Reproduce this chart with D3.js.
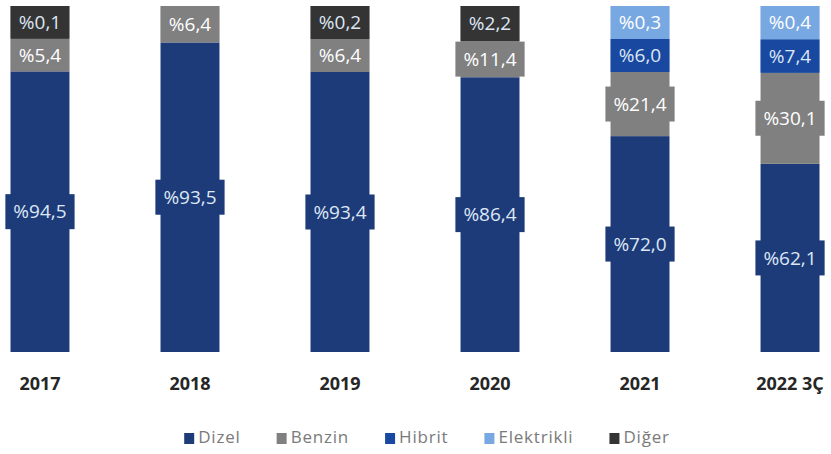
<!DOCTYPE html>
<html>
<head>
<meta charset="utf-8">
<script src="https://cdn.jsdelivr.net/npm/d3@7"></script>
<style>
  html, body { margin: 0; padding: 0; background: #fff; }
  svg { display: block; }
</style>
</head>
<body>
<svg id="chart" width="831" height="454"></svg>
<script>
// Fuel-type shares of registrations per year (percent)
const categories = ["2017", "2018", "2019", "2020", "2021", "2022 3Ç"];
const seriesNames = ["Dizel", "Benzin", "Hibrit", "Elektrikli", "Diğer"];
const dizel      = [94.5, 93.5, 93.4, 86.4, 72.0, 62.1];
const benzin     = [5.4, 6.4, 6.4, 11.4, 21.4, 30.1];
const hibrit     = [0, 0, 0, 0, 6.0, 7.4];
const elektrikli = [0, 0, 0, 0, 0.3, 0.4];
const diger      = [0.1, 0, 0.2, 2.2, 0, 0];
const colors = ["#1d3b79", "#808080", "#1848a0", "#78a8e2", "#343434"];

const seriesValues = [dizel, benzin, hibrit, elektrikli, diger];
const rows = categories.map((c, i) => {
  const r = { category: c };
  seriesNames.forEach((s, j) => { r[s] = seriesValues[j][i]; });
  return r;
});

// Small shares get a minimum drawn share so their labels stay readable;
// each bar is then normalised to full height.
const MIN_SHARE = 11;
const shown = v => (v > 0 ? Math.max(v, MIN_SHARE) : 0);

const stack = d3.stack()
  .keys(seriesNames)
  .value((d, k) => shown(d[k]))
  .offset(d3.stackOffsetExpand);
const layers = stack(rows);

const svg = d3.select("#chart");
const x = d3.scaleBand().domain(categories).range([10.5, 819.5])
  .paddingInner(0.607).paddingOuter(0);
const y = d3.scaleLinear().domain([0, 1]).range([352, 6]);
const color = d3.scaleOrdinal().domain(seriesNames).range(colors);

// stacked segments
const layerG = svg.append("g").selectAll("g").data(layers).join("g")
  .attr("fill", d => color(d.key));
layerG.selectAll("rect")
  .data(d => d.map(p => ({ key: d.key, p })).filter(o => o.p.data[o.key] > 0))
  .join("rect")
  .attr("x", o => x(o.p.data.category))
  .attr("width", x.bandwidth())
  .attr("y", o => y(o.p[1]))
  .attr("height", o => y(o.p[0]) - y(o.p[1]));

// value labels with a backing box in the segment colour
const fmt = v => "%" + v.toFixed(1).replace(".", ",");
const labelFont = "'Open Sans', sans-serif";
const labels = [];
layers.forEach(layer => {
  layer.forEach(p => {
    const v = p.data[layer.key];
    if (v > 0) labels.push({ key: layer.key, v, cat: p.data.category, y0: y(p[0]), y1: y(p[1]) });
  });
});
const labG = svg.append("g").selectAll("g").data(labels).join("g")
  .attr("transform", d => `translate(${x(d.cat) + x.bandwidth() / 2},${(d.y0 + d.y1) / 2})`);
const boxes = labG.append("rect").attr("fill", d => color(d.key));
const texts = labG.append("text")
  .attr("text-anchor", "middle")
  .attr("dy", "0.35em")
  .attr("font-family", labelFont)
  .attr("font-size", 19)
  .attr("fill", d => (d.key === "Benzin" || d.key === "Elektrikli") ? "#ffffff" : "#dde7f5")
  .text(d => fmt(d.v));
texts.each(function (d) { d.tw = this.getComputedTextLength(); });
boxes
  .attr("x", d => -(d.tw + 16) / 2)
  .attr("width", d => d.tw + 16)
  .attr("y", d => -Math.min(35, d.y0 - d.y1) / 2)
  .attr("height", d => Math.min(35, d.y0 - d.y1));

// category axis labels
svg.append("g").selectAll("text").data(categories).join("text")
  .attr("x", d => x(d) + x.bandwidth() / 2)
  .attr("y", 390)
  .attr("text-anchor", "middle")
  .attr("font-family", labelFont)
  .attr("font-weight", 700)
  .attr("font-size", 18)
  .attr("fill", "#262626")
  .text(d => d);

// legend
const legend = svg.append("g");
let lx = 0;
const GAP = 36;
const items = legend.selectAll("g").data(seriesNames).join("g");
items.append("rect").attr("width", 10).attr("height", 11).attr("y", -10)
  .attr("fill", d => color(d));
items.append("text").attr("x", 14).attr("y", 0)
  .attr("font-family", labelFont).attr("font-size", 17)
  .attr("letter-spacing", 0.8)
  .attr("fill", "#7a7a7a").text(d => d);
items.each(function () {
  const w = this.getBBox().width;
  d3.select(this).attr("transform", `translate(${lx},0)`);
  lx += w + GAP;
});
const legendW = lx - GAP;
legend.attr("transform", `translate(${427 - legendW / 2},443)`);
</script>
</body>
</html>
